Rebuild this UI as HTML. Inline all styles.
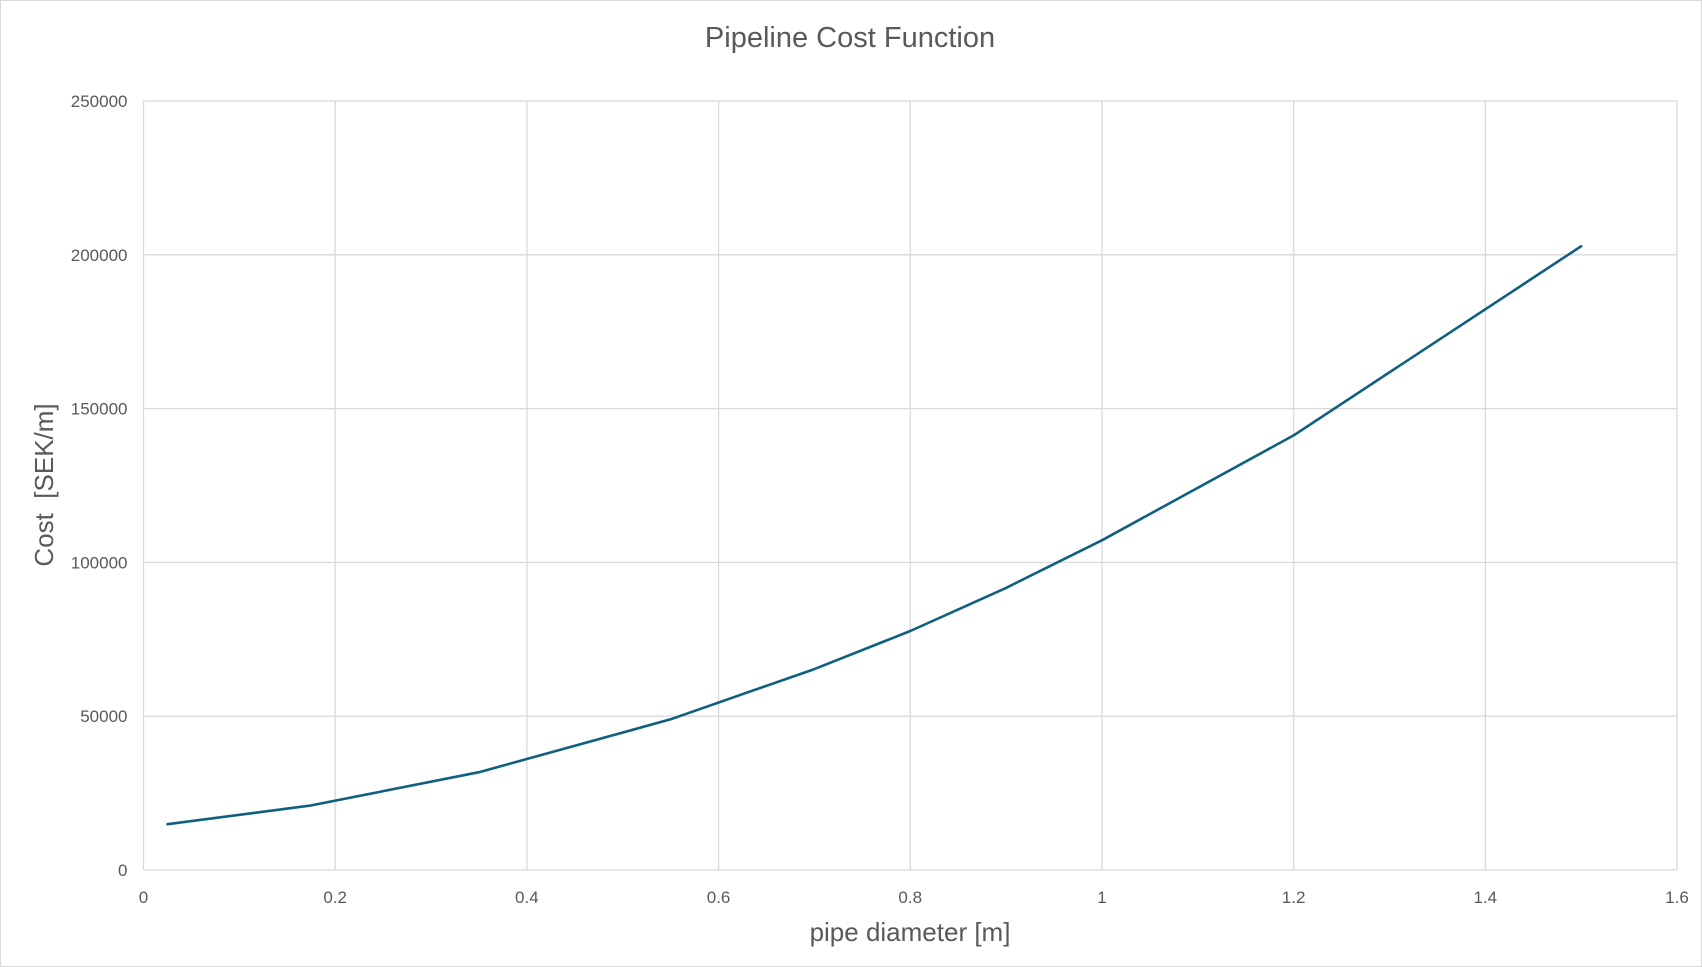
<!DOCTYPE html>
<html><head><meta charset="utf-8"><style>
html,body{margin:0;padding:0;background:#fff}
svg{display:block;font-family:"Liberation Sans",sans-serif}
</style></head><body>
<svg id="chart" width="1702" height="967">
<rect x="0.5" y="0.5" width="1701" height="966" fill="#fff" stroke="#d9d9d9"/>
<text x="850" y="47" text-anchor="middle" font-size="29" fill="#595959">Pipeline Cost Function</text>
<g id="grid"></g>
<g id="ticks"></g>
<text x="910" y="941" text-anchor="middle" font-size="26" fill="#595959">pipe diameter [m]</text>
<text transform="translate(53,485) rotate(-90)" text-anchor="middle" font-size="26" fill="#595959" xml:space="preserve">Cost  [SEK/m]</text>
<g id="series"></g>
</svg>
<script>
const xTicks=[0,0.2,0.4,0.6,0.8,1,1.2,1.4,1.6];
const yTicks=[0,50000,100000,150000,200000,250000];
const diameters=[0.025,0.057,0.175,0.35,0.55,0.7,0.8,0.9,1.0,1.2,1.5];
const costs=[14900,16200,21000,31800,49000,65300,77700,91700,107200,141300,202800];
const X0=143.5,X1=1677,Y0=870,Y1=101;
const sx=v=>X0+(v-0)/(1.6-0)*(X1-X0);
const sy=v=>Y0-(v/250000)*(Y0-Y1);
const NS="http://www.w3.org/2000/svg";
const grid=document.getElementById('grid'),ticks=document.getElementById('ticks'),series=document.getElementById('series');
function mk(tag,attrs,parent){const e=document.createElementNS(NS,tag);for(const k in attrs)e.setAttribute(k,attrs[k]);parent.appendChild(e);return e;}
xTicks.forEach(t=>{
 const l=mk('line',{x1:sx(t),x2:sx(t),y1:Y1,y2:Y0,stroke:'#d9d9d9','stroke-width':1.3},grid);
 
 
 const tx=mk('text',{x:sx(t),y:Y0+33,'text-anchor':'middle','font-size':17,fill:'#595959'},ticks);
 tx.textContent=String(t);
 
 
});
yTicks.forEach(t=>{
 const l=mk('line',{x1:X0,x2:X1,y1:sy(t),y2:sy(t),stroke:'#d9d9d9','stroke-width':1.3},grid);
 
 
 const tx=mk('text',{x:X0-16,y:sy(t)+6,'text-anchor':'end','font-size':17,fill:'#595959'},ticks);
 tx.textContent=String(t);
 
 
});
const pts=diameters.map((d,i)=>sx(d).toFixed(1)+','+sy(costs[i]).toFixed(1)).join(' ');
const line=mk('polyline',{points:pts,fill:'none',stroke:'#0f5f80','stroke-width':2.6,'stroke-linejoin':'round','stroke-linecap':'round'},series);


</script>
</body></html>
